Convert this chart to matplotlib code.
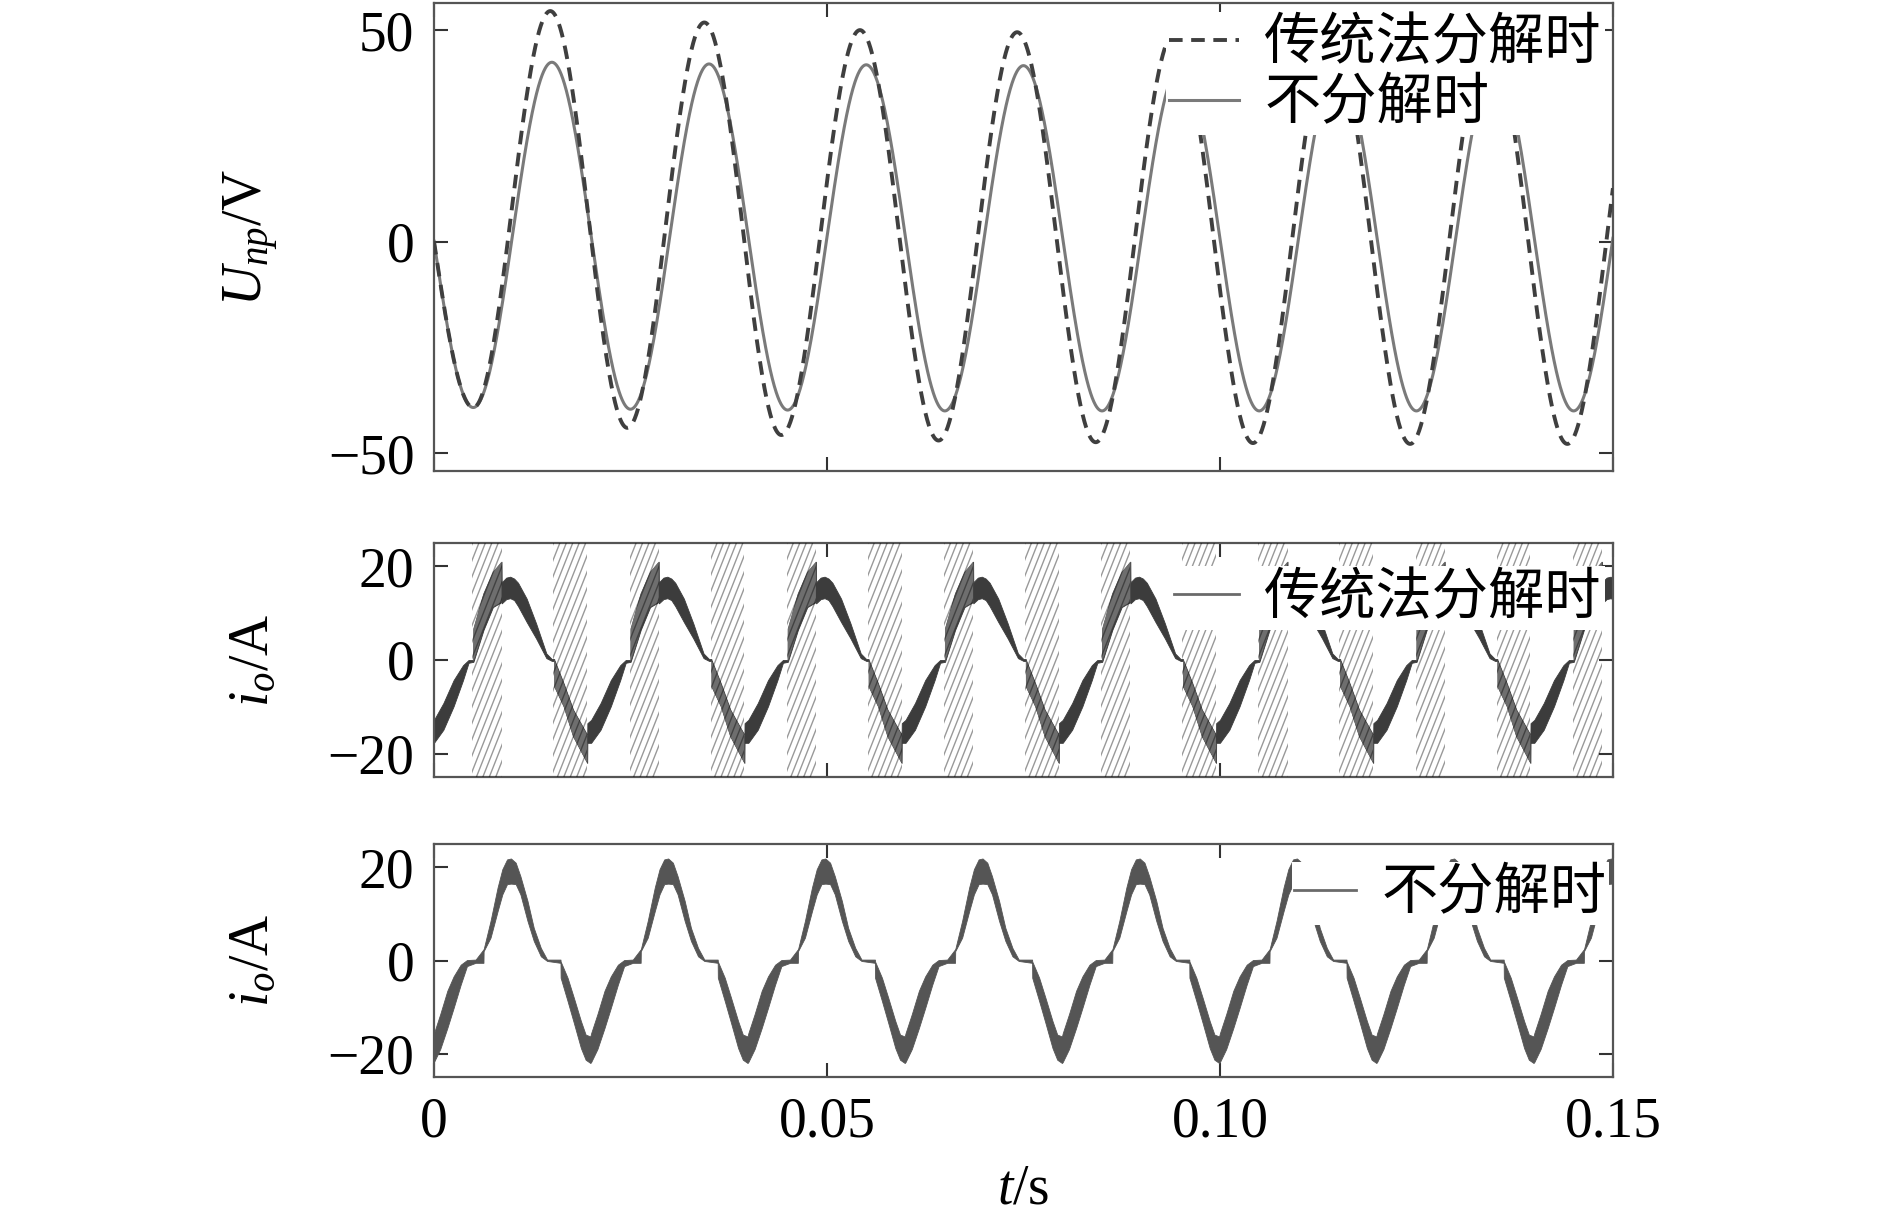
import numpy as np
import matplotlib
matplotlib.use('Agg')
import matplotlib.pyplot as plt
from matplotlib.collections import LineCollection

plt.rcParams['font.family'] = ['Liberation Serif', 'Noto Sans CJK SC']
plt.rcParams['mathtext.fontset'] = 'custom'
plt.rcParams['mathtext.rm'] = 'Liberation Serif'
plt.rcParams['mathtext.it'] = 'Liberation Serif:italic'

# ---- data ----
# U_np : times / values of the successive extrema (first and last are just outside the window)
sol_t = [-0.005, 0.005, 0.015, 0.025, 0.035, 0.045, 0.055, 0.065, 0.075,
         0.085, 0.095, 0.105, 0.115, 0.125, 0.135, 0.145, 0.155]
sol_v = [39.5, -39.2, 42.4, -39.6, 42.0, -39.8, 41.8, -40.0, 41.6,
         -40.0, 41.6, -40.0, 41.6, -40.0, 41.6, -40.0, 41.6]
das_t = [-0.005, 0.005, 0.0148, 0.0246, 0.0344, 0.0442, 0.0542, 0.0642, 0.0742,
         0.0842, 0.0942, 0.1042, 0.1142, 0.1242, 0.1342, 0.1442, 0.1542]
das_v = [39.5, -39.2, 54.5, -44.0, 51.8, -45.7, 50.0, -47.0, 49.5,
         -47.4, 49.2, -47.6, 49.0, -47.8, 49.0, -47.8, 49.0]

# i_o, conventional decomposition: one 20 ms period, upper / lower envelope of the ripple band
io1_t = [0.0000, 0.0006, 0.0012, 0.0025, 0.0037, 0.0044, 0.0050, 0.00502, 0.0063, 0.0075,
         0.0086, 0.00862, 0.0092, 0.0097, 0.0102, 0.0107, 0.0118, 0.0130, 0.0143, 0.0150,
         0.0153, 0.01532, 0.0165, 0.0177, 0.0195, 0.01952]
io1_hi = [-12.8, -11.0, -9.2, -4.3, -1.1, 0.0, 0.0, 6.7, 14.2, 18.8,
          21.0, 16.6, 17.6, 17.8, 17.4, 16.5, 13.1, 7.8, 1.4, 0.2,
          0.2, 0.0, -5.0, -10.6, -16.0, -13.5]
io1_lo = [-17.7, -16.3, -14.9, -9.9, -4.3, -0.6, -0.4, -0.4, 6.4, 11.3,
          12.4, 12.1, 13.0, 13.2, 12.8, 11.5, 8.1, 4.6, 0.4, -0.2,
          -0.2, -5.7, -9.9, -16.3, -22.0, -17.7]
hatch_on = [0.0049, 0.0152]
hatch_off = [0.0086, 0.0195]

# i_o, no decomposition
io2_t = [0.0000, 0.0008, 0.0017, 0.0025, 0.0034, 0.0042, 0.0053, 0.0063, 0.00632, 0.0072,
         0.0081, 0.0087, 0.0093, 0.0098, 0.0104, 0.0110, 0.0119, 0.0127, 0.0136, 0.0144,
         0.0161, 0.01612, 0.0170, 0.0178, 0.0187, 0.0193, 0.0199]
io2_hi = [-15.6, -11.5, -6.5, -3.4, -0.9, 0.1, 0.2, 2.4, 2.4, 8.5,
          15.7, 19.6, 21.7, 21.9, 21.0, 18.1, 12.8, 7.0, 2.7, 0.2,
          0.2, -0.2, -3.7, -8.0, -13.0, -15.9, -16.3]
io2_lo = [-21.8, -19.0, -14.5, -10.2, -5.2, -1.2, -0.5, -0.5, 2.0, 4.9,
          10.6, 14.2, 16.4, 16.5, 16.4, 14.2, 8.5, 4.2, 0.9, -0.1,
          -0.5, -3.7, -8.7, -13.4, -18.8, -21.3, -22.0]

period = 0.02
n_cycles = 8
xticks = [0, 0.05, 0.10, 0.15]
xticklabels = ['0', '0.05', '0.10', '0.15']
labels_u = ['传统法分解时', '不分解时']


def through_extrema(t_ext, v_ext, t):
    # smooth half-cosine between successive read-off extrema
    t_ext = np.asarray(t_ext)
    v_ext = np.asarray(v_ext)
    i = np.clip(np.searchsorted(t_ext, t, side='right') - 1, 0, len(t_ext) - 2)
    ph = (t - t_ext[i]) / (t_ext[i + 1] - t_ext[i])
    return v_ext[i] + (v_ext[i + 1] - v_ext[i]) * (1 - np.cos(np.pi * ph)) / 2


def tile(ph, *cols):
    ph = np.asarray(ph)
    k = np.repeat(np.arange(n_cycles), len(ph))
    out = [np.tile(ph, n_cycles) + period * k, np.tile(ph, n_cycles)]
    for c in cols:
        out.append(np.tile(np.asarray(c), n_cycles))
    return out


def hatch_span(ax, a, b):
    span = ax.axvspan(a, b, facecolor='none', edgecolor='none', zorder=3)
    run, step = 0.0118, 0.00082
    segs = [[(x, 0), (x + run, 1)] for x in np.arange(a - run, b + step, step)]
    lc = LineCollection(segs, colors=[(0, 0, 0, 0.4)], linewidths=1.0,
                        transform=ax.get_xaxis_transform(), zorder=3)
    ax.add_collection(lc, autolim=False)
    lc.set_clip_path(span)


def style(ax, yticks, ylim, ylabel):
    ax.set_xlim(0, 0.15)
    ax.set_ylim(*ylim)
    ax.set_yticks(yticks)
    ax.set_xticks(xticks)
    ax.tick_params(direction='in', length=10, width=1.5, top=True, right=True,
                   labelsize=40, pad=14, color='#333333')
    for s in ax.spines.values():
        s.set_color('#555555')
        s.set_linewidth(1.6)
    ax.set_ylabel(ylabel, fontsize=40)
    ax.yaxis.set_label_coords(-0.13, 0.5)


fig = plt.figure(figsize=(18.9, 12.12), dpi=100)
L, W = 0.2296, 0.6238
ax1 = fig.add_axes([L, 0.6114, W, 0.3861])
ax2 = fig.add_axes([L, 0.3589, W, 0.1931])
ax3 = fig.add_axes([L, 0.1114, W, 0.1922])

leg_kw = dict(loc='upper right', prop={'family': ['Noto Sans CJK SC'], 'size': 40.5},
              frameon=True, fancybox=False, framealpha=1, edgecolor='none',
              facecolor='white', borderpad=0.05, borderaxespad=0,
              handletextpad=0.45, labelspacing=0.05)

# ---- top: U_np ----
t = np.linspace(0, 0.15, 3001)
ax1.plot(t, through_extrema(das_t, das_v, t), color='#3f3f3f', lw=2.8,
         dashes=(3.5, 2.2), label=labels_u[0], zorder=3)
ax1.plot(t, through_extrema(sol_t, sol_v, t), color='#7a7a7a', lw=2.2,
         label=labels_u[1], zorder=2)
style(ax1, [-50, 0, 50], (-54.2, 56.4), r'$U_{np}$/V')
ax1.set_xticklabels([])
lg = ax1.legend(bbox_to_anchor=(0.993, 0.981), handlelength=1.25, **leg_kw)
lg.set_zorder(10)

# ---- middle: i_o conventional ----
tt, ph, hi, lo = tile(io1_t, io1_hi, io1_lo)
ax2.fill_between(tt, lo, hi, color='#3c3c3c', lw=0.6, edgecolor='#3c3c3c', zorder=2)
in_hatch = ((ph > 0.00501) & (ph < 0.00861)) | ((ph > 0.01531) & (ph < 0.01951))
ax2.fill_between(tt, lo, hi, where=in_hatch, color='#6e6e6e', lw=0, zorder=2.5)
for k in range(n_cycles):
    for a, b in zip(hatch_on, hatch_off):
        if a + period * k < 0.15:
            hatch_span(ax2, a + period * k, min(b + period * k, 0.15))
style(ax2, [-20, 0, 20], (-25, 25), r'$i_o$/A')
ax2.set_xticklabels([])
ax2.plot([], [], color='#6a6a6a', lw=2.0, label=labels_u[0])
lg = ax2.legend(bbox_to_anchor=(0.993, 0.90), handlelength=1.15, **leg_kw)
lg.set_zorder(10)

# ---- bottom: i_o no decomposition ----
tt, ph, hi, lo = tile(io2_t, io2_hi, io2_lo)
ax3.fill_between(tt, lo, hi, color='#555555', lw=0.6, edgecolor='#555555', zorder=2)
style(ax3, [-20, 0, 20], (-25, 25), r'$i_o$/A')
ax3.set_xticklabels(xticklabels)
ax3.plot([], [], color='#6a6a6a', lw=2.0, label=labels_u[1])
lg = ax3.legend(bbox_to_anchor=(0.997, 0.923), handlelength=1.1, **leg_kw)
lg.set_zorder(10)
ax3.set_xlabel(r'$t$/s', fontsize=40)
ax3.xaxis.set_label_coords(0.5, -0.37)

fig.savefig('out.png', dpi=100)
